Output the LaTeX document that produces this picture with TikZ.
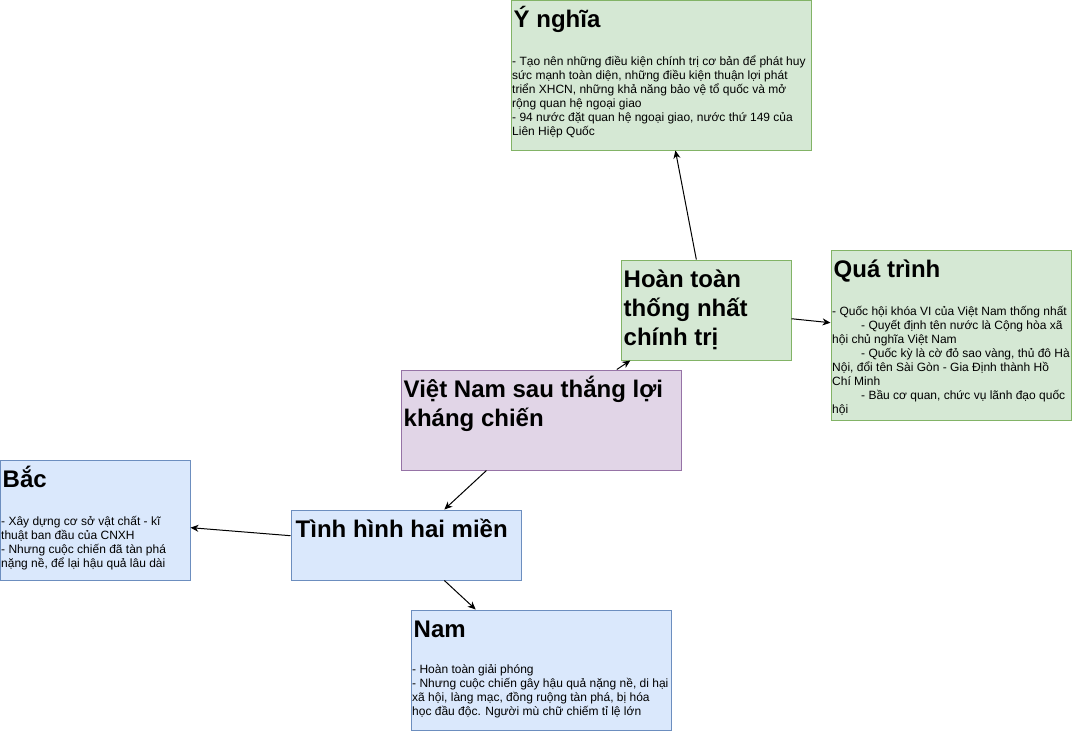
\documentclass[tikz,border=0pt]{standalone}
\usepackage{fontspec}
\setmainfont{Liberation Sans}
\usetikzlibrary{arrows.meta}
\definecolor{gfill}{HTML}{D5E8D4}
\definecolor{gline}{HTML}{82B366}
\definecolor{pfill}{HTML}{E1D5E7}
\definecolor{pline}{HTML}{9673A6}
\definecolor{bfill}{HTML}{DAE8FC}
\definecolor{bline}{HTML}{6C8EBF}
\tikzset{
  box/.style={rectangle, inner sep=0pt, line width=1pt},
  gbox/.style={box, fill=gfill, draw=gline},
  pbox/.style={box, fill=pfill, draw=pline},
  bbox/.style={box, fill=bfill, draw=bline},
  ttl/.style={anchor=north west, inner sep=0pt, align=left,
    font=\fontsize{24pt}{29pt}\selectfont\bfseries},
  body/.style={anchor=north west, inner sep=0pt, align=left,
    font=\fontsize{12pt}{14pt}\selectfont},
  arr/.style={draw=black, line width=1pt, -{Stealth[length=8pt,width=7pt,inset=2.5pt]}}
}
\newcommand\ts{\rule{0pt}{28pt}}
\newcommand\bs{\rule{0pt}{12pt}}
\newcommand\ind{\hspace*{29pt}}
\begin{document}
\begin{tikzpicture}[x=1pt,y=-1pt]
\useasboundingbox (0,0) rectangle (1072,734);
% boxes
\node[gbox, minimum width=300pt, minimum height=150pt] (yn) at (661,75) {};
\node[gbox, minimum width=240pt, minimum height=170pt] (qt) at (951,335) {};
\node[gbox, minimum width=170pt, minimum height=100pt] (ht) at (706,310) {};
\node[pbox, minimum width=280pt, minimum height=100pt] (vn) at (541,420) {};
\node[bbox, minimum width=190pt, minimum height=120pt] (bac) at (95,520) {};
\node[bbox, minimum width=230pt, minimum height=70pt] (th) at (406,545) {};
\node[bbox, minimum width=260pt, minimum height=120pt] (nam) at (541,670) {};
% arrows
\draw[arr] (vn) -- (ht);
\draw[arr] (vn) -- (th);
\draw[arr] (ht) -- (yn);
\draw[arr] (ht) -- (qt);
\draw[arr] (th) -- (bac);
\draw[arr] (th) -- (nam);
% texts
\node[ttl] (ynT) at ([xshift=3pt]yn.north west) {\ts Ý nghĩa};
\node[body] (ynB) at ([xshift=1.5pt,yshift=-54pt]yn.north west) {\bs- Tạo nên những điều kiện chính trị cơ bản để phát huy\\sức mạnh toàn diện, những điều kiện thuận lợi phát\\triển XHCN, những khả năng bảo vệ tổ quốc và mở\\rộng quan hệ ngoại giao\\- 94 nước đặt quan hệ ngoại giao, nước thứ 149 của\\Liên Hiệp Quốc};
\node[ttl] (qtT) at ([xshift=3pt]qt.north west) {\ts Quá trình};
\node[body] (qtB) at ([xshift=1.5pt,yshift=-54pt]qt.north west) {\bs- Quốc hội khóa VI của Việt Nam thống nhất\\\ind- Quyết định tên nước là Cộng hòa xã\\hội chủ nghĩa Việt Nam\\\ind- Quốc kỳ là cờ đỏ sao vàng, thủ đô Hà\\Nội, đổi tên Sài Gòn - Gia Định thành Hồ\\Chí Minh\\\ind- Bầu cơ quan, chức vụ lãnh đạo quốc\\hội};
\node[ttl] (htT) at ([xshift=3pt]ht.north west) {\ts Hoàn toàn\\thống nhất\\chính trị};
\node[ttl] (vnT) at ([xshift=3pt]vn.north west) {\ts Việt Nam sau thắng lợi\\kháng chiến};
\node[ttl] (bacT) at ([xshift=3pt]bac.north west) {\ts Bắc};
\node[body] (bacB) at ([xshift=1.5pt,yshift=-54pt]bac.north west) {\bs- Xây dựng cơ sở vật chất - kĩ\\thuật ban đầu của CNXH\\- Nhưng cuộc chiến đã tàn phá\\nặng nề, để lại hậu quả lâu dài};
\node[ttl] (thT) at ([xshift=5pt]th.north west) {\ts Tình hình hai miền};
\node[ttl] (namT) at ([xshift=3pt]nam.north west) {\ts Nam};
\node[body] (namB) at ([xshift=1.5pt,yshift=-52pt]nam.north west) {\bs- Hoàn toàn giải phóng\\- Nhưng cuộc chiến gây hậu quả nặng nề, di hại\\xã hội, làng mạc, đồng ruộng tàn phá, bị hóa\\học đầu độc. Người mù chữ chiếm tỉ lệ lớn};
\end{tikzpicture}
\end{document}
